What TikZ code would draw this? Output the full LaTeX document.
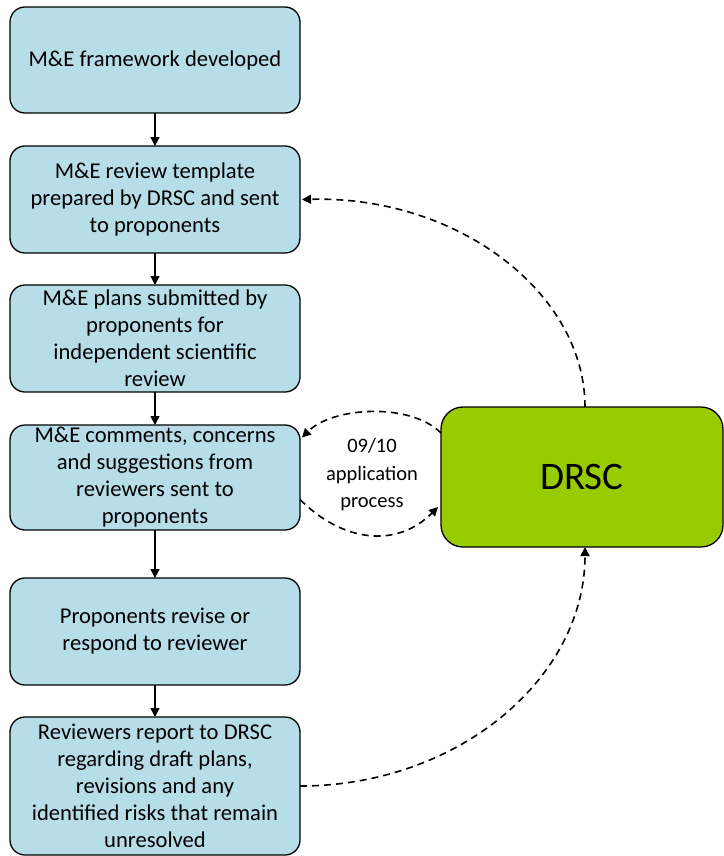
\documentclass[tikz,border=0pt]{standalone}
\usepackage{fontspec}
\setmainfont{Carlito}
\usetikzlibrary{arrows.meta,positioning}
\definecolor{paleblue}{HTML}{B7DEE8}
\definecolor{limegreen}{HTML}{99CC00}

\begin{document}
\begin{tikzpicture}[
  x=1pt, y=1pt,
  font=\fontsize{22.6}{27}\selectfont,
  node distance=33pt,
  stage/.style={
    draw=black,
    line width=1.3pt,
    rounded corners=15pt,
    fill=paleblue,
    align=center,
    minimum width=290pt,
    minimum height=107pt,
    inner xsep=2pt,
    inner ysep=0pt,
    outer sep=0pt
  },
  council/.style={
    draw=black,
    line width=1.3pt,
    rounded corners=22pt,
    fill=limegreen,
    align=center,
    minimum width=282pt,
    minimum height=140pt,
    outer sep=0pt,
    font=\fontsize{39}{44}\selectfont
  },
  flow/.style={-{Triangle[length=9pt,width=9pt]},line width=1.4pt},
  feedback/.style={-{Triangle[length=9pt,width=9pt]},line width=1.6pt,dash pattern=on 7pt off 5pt}
]
\useasboundingbox (0,0) rectangle (723,-856);

% 1. Review stages (left column)
\node[stage,minimum height=106pt] (framework) at (155,-60) {M\&E framework developed};
\node[stage,below=of framework] (template) {M\&E review template\\prepared by DRSC and sent\\to proponents};
\node[stage,below=32pt of template] (plans) {M\&E plans submitted by\\proponents for\\independent scientific\\review};
\node[stage,below=of plans,minimum height=105pt] (comments) {M\&E comments, concerns\\and suggestions from\\reviewers sent to\\proponents};
\node[stage,below=48pt of comments] (revise) {Proponents revise or\\respond to reviewer};
\node[stage,below=32pt of revise,minimum height=138pt] (report) {Reviewers report to DRSC\\regarding draft plans,\\revisions and any\\identified risks that remain\\unresolved};

% 2. Committee
\node[council] (drsc) at (582,-477) {DRSC};
\node[align=center,font=\fontsize{20.5}{27.5}\selectfont] (cycle) at (372,-475) {09/10\\application\\process};

% Connections
\draw[flow] (framework) -- (template);
\draw[flow] (template) -- (plans);
\draw[flow] (plans) -- (comments);
\draw[flow] (comments) -- (revise);
\draw[flow] (revise) -- (report);

% Application cycle
\draw[feedback] ([yshift=44pt]drsc.west) to[out=135,in=45,looseness=0.8] ([yshift=40pt,xshift=2pt]comments.east);
\draw[feedback] ([yshift=-22pt]comments.east) to[out=-45,in=-135,looseness=1.1] ([yshift=-30pt,xshift=-3pt]drsc.west);

% Feedback loops
\draw[feedback] ([xshift=3pt]drsc.north) .. controls +(0,114) and +(156,4) .. ([xshift=2pt]template.east);
\draw[feedback] (report.east) .. controls +(157,0) and +(0,-132) .. ([xshift=3pt]drsc.south);

\end{tikzpicture}
\end{document}
